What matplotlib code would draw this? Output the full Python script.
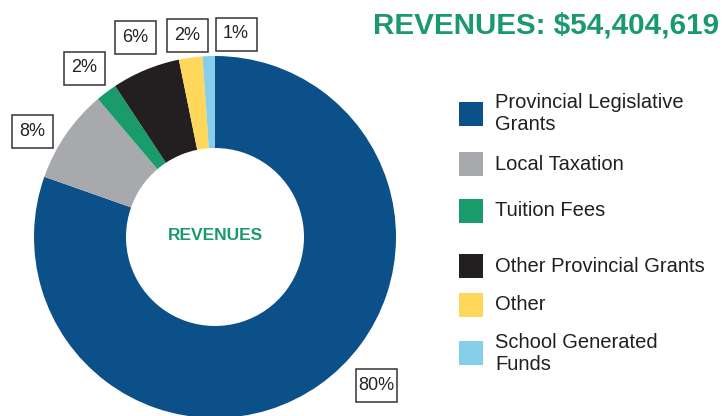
"""Donut chart of revenues by source."""

import matplotlib

matplotlib.use("Agg")
import matplotlib.pyplot as plt
from matplotlib.patches import Rectangle

plt.rcParams["font.family"] = ["Liberation Sans", "DejaVu Sans"]

# data
SOURCES = [
    "Provincial Legislative\nGrants",
    "Local Taxation",
    "Tuition Fees",
    "Other Provincial Grants",
    "Other",
    "School Generated\nFunds",
]
SHARES = [80.4, 8.4, 1.9, 6.1, 2.1, 1.1]
SHARE_LABELS = ["80%", "8%", "2%", "6%", "2%", "1%"]
TOTAL_LABEL = "REVENUES: $54,404,619"

COLORS = ["#0b5089", "#a7a9ac", "#199b6c", "#231f20", "#ffd75a", "#87ceeb"]
GREEN = "#1a9a6c"

W, H = 726, 416
# label box centres and legend rows, in pixels from top-left
BOX_POS = [(376, 385), (32, 131), (84, 68), (135, 37), (187, 35), (236, 34)]
LEGEND_Y = [114, 164, 211, 266, 305, 353]


def main() -> None:
    fig = plt.figure(figsize=(W / 100, H / 100), dpi=100)
    ax = fig.add_axes([0, 0, 1, 1])

    ax.pie(
        SHARES,
        colors=COLORS,
        startangle=90,
        counterclock=False,
        radius=181,
        center=(215, H - 237),
        wedgeprops=dict(width=92, linewidth=0),
    )
    ax.set_xlim(0, W)
    ax.set_ylim(0, H)
    ax.set_aspect("equal")
    ax.axis("off")

    ax.text(215, H - 236, "REVENUES", ha="center", va="center",
            fontsize=12.5, fontweight="bold", color=GREEN)
    ax.text(719, H - 33, TOTAL_LABEL, ha="right", va="baseline",
            fontsize=21.3, fontweight="bold", color=GREEN)

    for label, (x, y) in zip(SHARE_LABELS, BOX_POS):
        ax.add_patch(Rectangle((x - 20.5, H - y - 16.5), 41, 33, facecolor="white",
                               edgecolor="#333333", linewidth=1.1, clip_on=False))
        ax.text(x, H - y, label, ha="center", va="center", fontsize=13,
                color="#222222")

    for name, color, y in zip(SOURCES, COLORS, LEGEND_Y):
        ax.add_patch(Rectangle((459, H - y - 12), 24, 24, facecolor=color,
                               linewidth=0))
        ax.text(495, H - y, name, ha="left", va="center", fontsize=14.5,
                color="#231f20", linespacing=1.2)

    fig.savefig("out.png", dpi=100)


if __name__ == "__main__":
    main()
